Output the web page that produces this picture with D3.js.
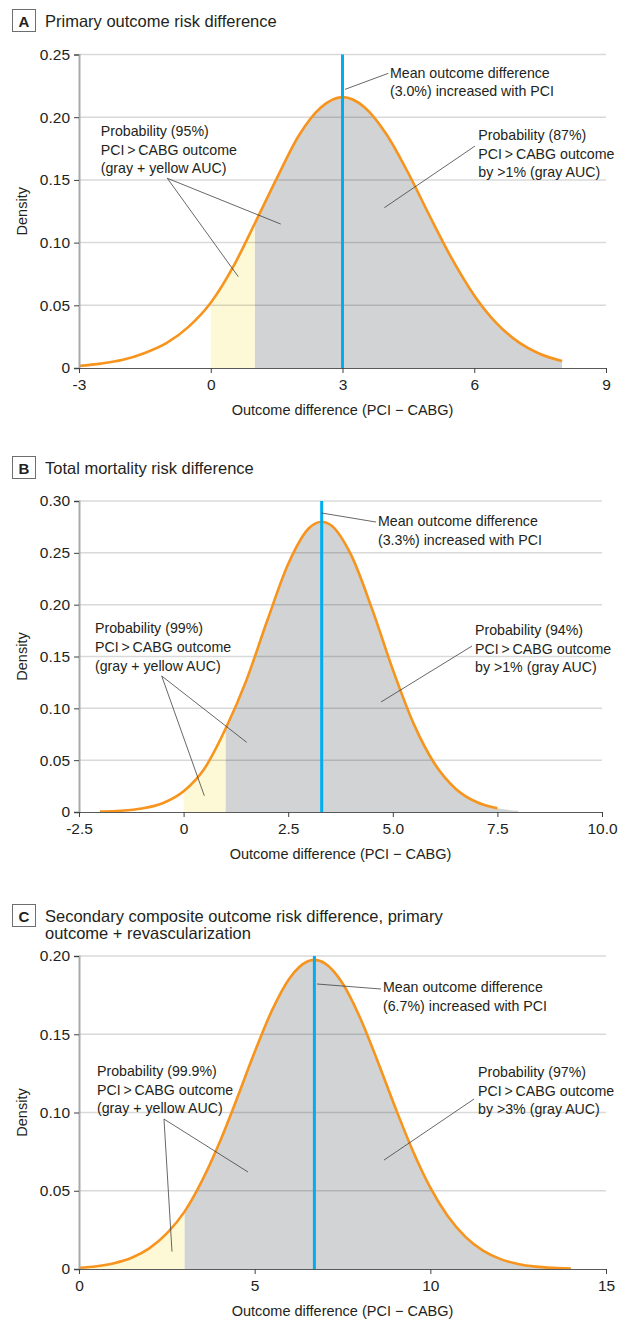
<!DOCTYPE html>
<html>
<head>
<meta charset="utf-8">
<script src="https://cdn.jsdelivr.net/npm/d3@7"></script>
<style>
body { margin: 0; background: #fff; }
svg { display: block; font-family: "Liberation Sans", Arial, sans-serif; }
</style>
</head>
<body>
<div id="chart"></div>
<script>
// ---- data ----
// A: primary outcome
var xA = [-3, -2.5, -2, -1.5, -1, -0.5, 0, 0.5, 1, 1.5, 2, 2.5, 3, 3.5, 4, 4.5, 5, 5.5, 6, 6.5, 7, 7.5, 8];
var densA = [0.0017, 0.0035, 0.0065, 0.0120, 0.0200, 0.0330, 0.0520, 0.0800, 0.1150, 0.1510, 0.1850, 0.2075, 0.2160,
             0.2080, 0.1864, 0.1553, 0.1202, 0.0866, 0.0579, 0.0360, 0.0208, 0.0112, 0.0056];
var xTicksA = [-3, 0, 3, 6, 9];
var xTickLabelsA = ["-3", "0", "3", "6", "9"];
var yTicksA = [0, 0.05, 0.10, 0.15, 0.20, 0.25];
var yTickLabelsA = ["0", "0.05", "0.10", "0.15", "0.20", "0.25"];

// B: total mortality
var xB = [-2, -1.5, -1, -0.5, 0, 0.5, 1, 1.5, 2, 2.5, 3, 3.3, 3.5, 4, 4.5, 5, 5.5, 6, 6.5, 7, 7.5, 8];
var densB = [0.0004, 0.0012, 0.0034, 0.0085, 0.0200, 0.0420, 0.0800, 0.1270, 0.1847, 0.2392, 0.2739, 0.2800,
             0.2773, 0.2482, 0.1964, 0.1374, 0.0850, 0.0465, 0.0225, 0.0096, 0.0036, 0.0012];
var xTicksB = [-2.5, 0, 2.5, 5, 7.5, 10];
var xTickLabelsB = ["-2.5", "0", "2.5", "5.0", "7.5", "10.0"];
var yTicksB = [0, 0.05, 0.10, 0.15, 0.20, 0.25, 0.30];
var yTickLabelsB = ["0", "0.05", "0.10", "0.15", "0.20", "0.25", "0.30"];

// C: secondary composite
var xC = [0, 0.5, 1, 1.5, 2, 2.5, 3, 3.5, 4, 4.5, 5, 5.5, 6, 6.5, 6.7, 7, 7.5, 8, 8.5, 9, 9.5, 10,
          10.5, 11, 11.5, 12, 12.5, 13, 13.5, 14];
var densC = [0.0008, 0.0018, 0.0037, 0.0072, 0.0132, 0.0228, 0.0365, 0.0563, 0.0808, 0.1091, 0.1386, 0.1656,
             0.1860, 0.1965, 0.1975, 0.1953, 0.1826, 0.1606, 0.1328, 0.1033, 0.0756, 0.0520, 0.0337, 0.0205,
             0.0117, 0.0063, 0.0032, 0.0015, 0.0007, 0.0003];
var xTicksC = [0, 5, 10, 15];
var xTickLabelsC = ["0", "5", "10", "15"];
var yTicksC = [0, 0.05, 0.10, 0.15, 0.20];
var yTickLabelsC = ["0", "0.05", "0.10", "0.15", "0.20"];

var W = 622, H = 1320;
var orange = "#f7941d", blue = "#00aeef", grayFill = "#d1d3d4", yellowFill = "#fdf9d6";

var panels = [
  {
    letter: "A", title: ["Primary outcome risk difference"], titleY: 27,
    xs: xA, ys: densA, mean: 3.0, yellowFrom: 0, grayFrom: 1, fillTo: 8, lineTo: 8,
    xDomain: [-3, 9], yDomain: [0, 0.25],
    xTicks: xTicksA, xTickLabels: xTickLabelsA, yTicks: yTicksA, yTickLabels: yTickLabelsA,
    top: 54.5, bottom: 368, left: 79, right: 606,
    notes: [
      { at: [4.08, 0.2315], lines: ["Mean outcome difference", "(3.0%) increased with PCI"],
        leaders: [[[3.057, 0.2222], [4.043, 0.235]]] },
      { at: [6.092, 0.1818], lines: ["Probability (87%)", "PCI\u2009>\u2009CABG outcome", "by >1% (gray AUC)"],
        leaders: [[[6.017, 0.177], [3.952, 0.1278]]] },
      { at: [-2.506, 0.185], lines: ["Probability (95%)", "PCI\u2009>\u2009CABG outcome", "(gray + yellow AUC)"],
        leaders: [[[-0.989, 0.1513], [0.627, 0.0728]], [[-0.989, 0.1513], [1.593, 0.1148]]] }
    ]
  },
  {
    letter: "B", title: ["Total mortality risk difference"], titleY: 474,
    xs: xB, ys: densB, mean: 3.3, yellowFrom: 0, grayFrom: 1, fillTo: 8, lineTo: 7.5,
    xDomain: [-2.5, 10], yDomain: [0, 0.30],
    xTicks: xTicksB, xTickLabels: xTickLabelsB, yTicks: yTicksB, yTickLabels: yTickLabelsB,
    top: 501, bottom: 812, left: 79, right: 602,
    notes: [
      { at: [4.646, 0.2759], lines: ["Mean outcome difference", "(3.3%) increased with PCI"],
        leaders: [[[3.3, 0.2884], [4.598, 0.2797]]] },
      { at: [6.965, 0.1707], lines: ["Probability (94%)", "PCI\u2009>\u2009CABG outcome", "by >1% (gray AUC)"],
        leaders: [[[6.893, 0.1601], [4.718, 0.1061]]] },
      { at: [-2.118, 0.1724], lines: ["Probability (99%)", "PCI\u2009>\u2009CABG outcome", "(gray + yellow AUC)"],
        leaders: [[[-0.523, 0.1312], [0.495, 0.0157]], [[-0.523, 0.1312], [1.508, 0.0672]]] }
    ]
  },
  {
    letter: "C", title: ["Secondary composite outcome risk difference, primary", "outcome + revascularization"], titleY: 922,
    xs: xC, ys: densC, mean: 6.7, yellowFrom: 0, grayFrom: 3, fillTo: 14, lineTo: 14,
    xDomain: [0, 15], yDomain: [0, 0.20],
    xTicks: xTicksC, xTickLabels: xTickLabelsC, yTicks: yTicksC, yTickLabels: yTickLabelsC,
    top: 956, bottom: 1269, left: 79, right: 606,
    notes: [
      { at: [8.653, 0.177], lines: ["Mean outcome difference", "(6.7%) increased with PCI"],
        leaders: [[[6.774, 0.1821], [8.596, 0.1789]]] },
      { at: [11.357, 0.1227], lines: ["Probability (97%)", "PCI\u2009>\u2009CABG outcome", "by >3% (gray AUC)"],
        leaders: [[[11.243, 0.1086], [8.681, 0.0696]]] },
      { at: [0.512, 0.1233], lines: ["Probability (99.9%)", "PCI\u2009>\u2009CABG outcome", "(gray + yellow AUC)"],
        leaders: [[[2.419, 0.0958], [2.647, 0.0111]], [[2.419, 0.0958], [4.81, 0.062]]] }
    ]
  }
];

var svg = d3.select("#chart").append("svg")
  .attr("width", W)
  .attr("height", H);

svg.append("rect").attr("width", W).attr("height", H).attr("fill", "#fff");

panels.forEach(function(p) {
  var pts = p.xs.map(function(x, i) { return { x: x, y: p.ys[i] }; });

  var x = d3.scaleLinear().domain(p.xDomain).range([p.left, p.right]);
  var y = d3.scaleLinear().domain(p.yDomain).range([p.bottom, p.top]);

  var g = svg.append("g").attr("class", "panel-" + p.letter);

  // header
  g.append("rect")
    .attr("x", 12.5).attr("y", p.titleY - 17.5)
    .attr("width", 23).attr("height", 22)
    .attr("fill", "#fff").attr("stroke", "#6d6e71").attr("stroke-width", 1);
  g.append("text")
    .attr("x", 24).attr("y", p.titleY)
    .attr("text-anchor", "middle")
    .attr("font-size", 15).attr("font-weight", "bold").attr("fill", "#231f20")
    .text(p.letter);
  g.append("text")
    .attr("x", 45).attr("y", p.titleY)
    .attr("font-size", 16.5).attr("fill", "#231f20")
    .selectAll("tspan").data(p.title).enter().append("tspan")
    .attr("x", 45).attr("dy", function(d, i) { return i ? 17 : 0; })
    .text(function(d) { return d; });

  // shaded areas under curve
  var area = d3.area()
    .x(function(d) { return x(d.x); })
    .y0(y(0))
    .y1(function(d) { return y(d.y); })
    .curve(d3.curveMonotoneX);

  g.append("path")
    .datum(pts.filter(function(d) { return d.x >= p.grayFrom && d.x <= p.fillTo; }))
    .attr("d", area).attr("fill", grayFill);
  g.append("path")
    .datum(pts.filter(function(d) { return d.x >= p.yellowFrom && d.x <= p.grayFrom; }))
    .attr("d", area).attr("fill", yellowFill);

  // gridlines
  g.selectAll(".grid").data(p.yTicks.filter(function(t) { return t > 0; })).enter()
    .append("line")
    .attr("x1", p.left).attr("x2", p.right)
    .attr("y1", function(d) { return y(d); }).attr("y2", function(d) { return y(d); })
    .attr("stroke", "#000").attr("stroke-opacity", 0.15).attr("stroke-width", 1.5);

  // density curve
  var line = d3.line()
    .x(function(d) { return x(d.x); })
    .y(function(d) { return y(d.y); })
    .curve(d3.curveMonotoneX);
  g.append("path")
    .datum(pts.filter(function(d) { return d.x <= p.lineTo; }))
    .attr("d", line)
    .attr("fill", "none").attr("stroke", orange).attr("stroke-width", 2.6);

  // mean line
  g.append("line")
    .attr("x1", x(p.mean)).attr("x2", x(p.mean))
    .attr("y1", y(p.yDomain[1])).attr("y2", y(0))
    .attr("stroke", blue).attr("stroke-width", 3);

  // axes
  var yAxis = d3.axisLeft(y).tickValues(p.yTicks)
    .tickFormat(function(d, i) { return p.yTickLabels[i]; })
    .tickSize(5).tickPadding(4);
  var ya = g.append("g").attr("transform", "translate(" + p.left + ",0)").call(yAxis);
  ya.select(".domain").attr("stroke", "#a7a9ac").attr("stroke-width", 2);
  ya.selectAll(".tick line").attr("stroke", "#414042");
  ya.selectAll(".tick text").attr("font-size", 15.5).attr("fill", "#231f20")
    .attr("font-family", "Liberation Sans, Arial, sans-serif");

  var xAxis = d3.axisBottom(x).tickValues(p.xTicks)
    .tickFormat(function(d, i) { return p.xTickLabels[i]; })
    .tickSize(5).tickSizeOuter(0).tickPadding(6);
  var xa = g.append("g").attr("transform", "translate(0," + p.bottom + ")").call(xAxis);
  xa.select(".domain").attr("stroke", "#58595b").attr("stroke-width", 1.2);
  xa.selectAll(".tick line").attr("stroke", "#414042");
  xa.selectAll(".tick text").attr("font-size", 15.5).attr("fill", "#231f20")
    .attr("font-family", "Liberation Sans, Arial, sans-serif");

  // axis titles
  g.append("text")
    .attr("transform", "translate(27," + ((p.top + p.bottom) / 2) + ")rotate(-90)")
    .attr("text-anchor", "middle")
    .attr("font-size", 14.5).attr("fill", "#231f20")
    .text("Density");
  g.append("text")
    .attr("x", (p.left + p.right) / 2).attr("y", p.bottom + 47)
    .attr("text-anchor", "middle")
    .attr("font-size", 14.5).attr("fill", "#231f20")
    .text("Outcome difference (PCI \u2212 CABG)");

  // annotations
  p.notes.forEach(function(n) {
    n.leaders.forEach(function(l) {
      g.append("line")
        .attr("x1", x(l[0][0])).attr("y1", y(l[0][1]))
        .attr("x2", x(l[1][0])).attr("y2", y(l[1][1]))
        .attr("stroke", "#414042").attr("stroke-width", 0.8);
    });
    g.append("text")
      .attr("font-size", 14.2).attr("fill", "#231f20")
      .selectAll("tspan").data(n.lines).enter().append("tspan")
      .attr("x", x(n.at[0]))
      .attr("y", function(d, i) { return y(n.at[1]) + i * 18.7; })
      .text(function(d) { return d; });
  });
});
</script>
</body>
</html>
